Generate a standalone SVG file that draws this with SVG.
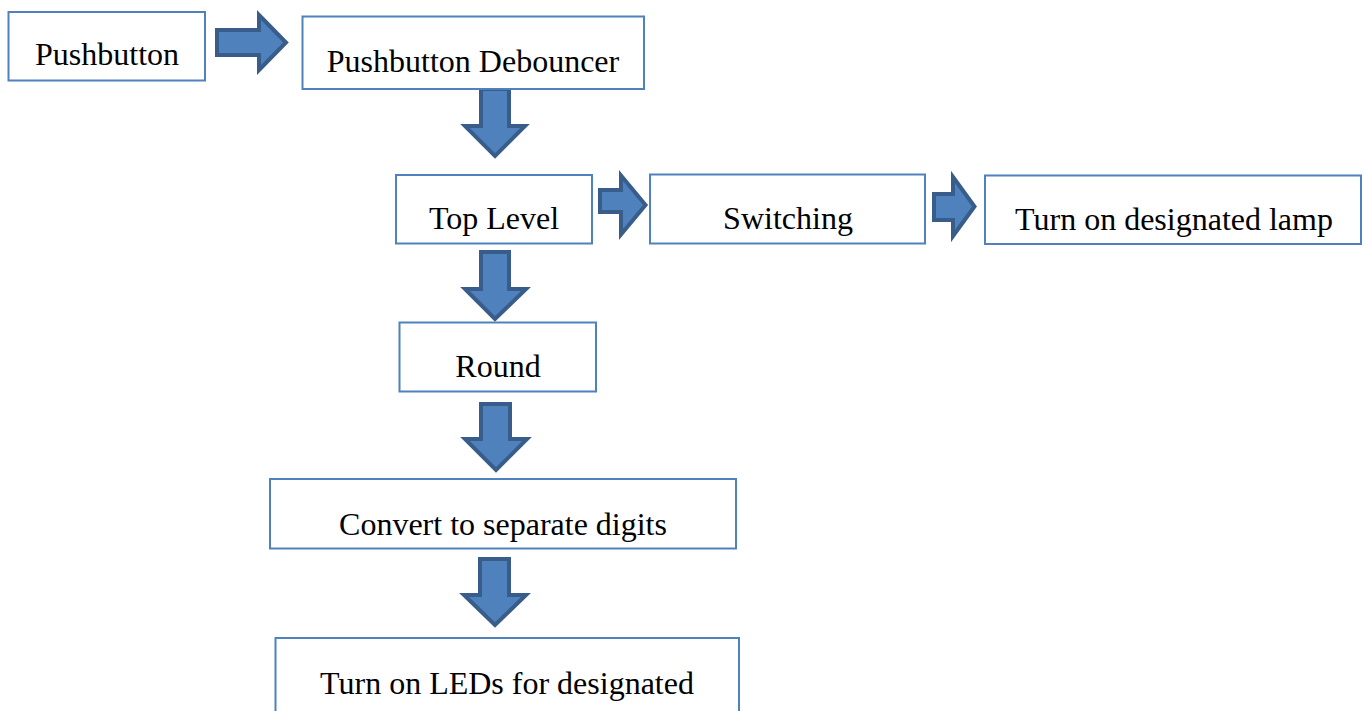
<svg xmlns="http://www.w3.org/2000/svg" width="1364" height="711" viewBox="0 0 1364 711">
<style>
.box{fill:#ffffff;stroke:#4F81BD;stroke-width:2}
.lbl{font-family:"Liberation Serif","Times New Roman",serif;font-size:32px;fill:#000000;text-anchor:middle}
.arr{fill:#4F81BD;stroke:#385D8A;stroke-width:4;stroke-linejoin:miter}
</style>
<rect width="1364" height="711" fill="#ffffff"/>
<g id="connectors">
<path class="arr" d="M217,30 L259,30 L259,15 L286,42.5 L259,70 L259,55 L217,55 Z"/>
<path class="arr" d="M481,89 L509,89 L509,126 L525,126 L495,156 L465,126 L481,126 Z"/>
<path class="arr" d="M600,190 L621,190 L621,175.5 L645.5,205 L621,234.5 L621,212 L600,212 Z"/>
<path class="arr" d="M934,194 L953,194 L953,177 L974.5,206.5 L953,236 L953,220 L934,220 Z"/>
<path class="arr" d="M481,252 L509,252 L509,289 L526,289 L495,319 L465,289 L481,289 Z"/>
<path class="arr" d="M481,404 L510,404 L510,439 L527,439 L496,470 L465,439 L481,439 Z"/>
<path class="arr" d="M480,559 L509,559 L509,595 L526,595 L495,625 L464,595 L480,595 Z"/>
</g>
<g id="n-pushbutton">
<rect class="box" x="8.5" y="12" width="196.5" height="68.5"/>
<text class="lbl" x="107" y="65">Pushbutton</text>
</g>
<g id="n-debouncer">
<rect class="box" x="302.5" y="16.5" width="341.5" height="72.5"/>
<text class="lbl" x="473" y="72">Pushbutton Debouncer</text>
</g>
<g id="n-toplevel">
<rect class="box" x="396" y="175" width="196" height="68.5"/>
<text class="lbl" x="494" y="229">Top Level</text>
</g>
<g id="n-switching">
<rect class="box" x="650" y="174.5" width="275" height="69"/>
<text class="lbl" x="788" y="229">Switching</text>
</g>
<g id="n-lamp">
<rect class="box" x="985" y="175.5" width="376" height="68.5"/>
<text class="lbl" x="1174" y="230">Turn on designated lamp</text>
</g>
<g id="n-round">
<rect class="box" x="399.5" y="322.5" width="196.5" height="69"/>
<text class="lbl" x="498" y="377">Round</text>
</g>
<g id="n-convert">
<rect class="box" x="270" y="479" width="466" height="69.5"/>
<text class="lbl" x="503" y="535">Convert to separate digits</text>
</g>
<g id="n-leds">
<rect class="box" x="275.5" y="638" width="463.5" height="90"/>
<text class="lbl" x="507" y="694">Turn on LEDs for designated</text>
</g>
</svg>
